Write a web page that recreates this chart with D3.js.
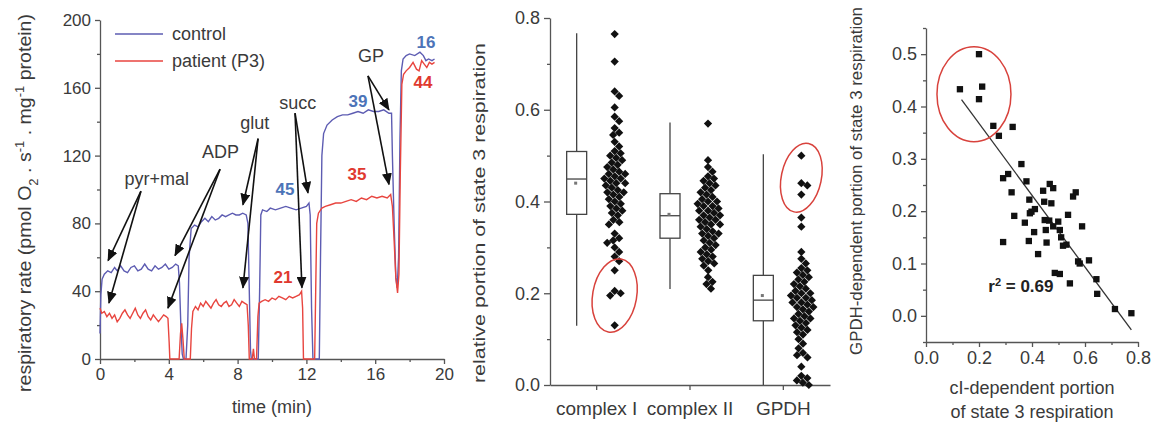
<!DOCTYPE html>
<html>
<head>
<meta charset="utf-8">
<script src="https://cdn.jsdelivr.net/npm/d3@7"></script>
<style>
  body { margin: 0; background: #fff; }
  text { font-family: "Liberation Sans", Arial, sans-serif; fill: #3a3a3a; }
  .axis path, .axis line { stroke: #555; stroke-width: 1.3; }
  .axis text { font-size: 17px; fill: #3a3a3a; }
</style>
</head>
<body>
<svg id="chart" width="1151" height="424"></svg>
<script>
/* panel A: oxygraph traces, [time (min), rate] */
const controlTrace = [[0.0,15],[0.05,38],[0.12,47],[0.25,50],[0.45,52],[0.65,51],[0.85,54],[1.0,52],[1.2,55],[1.4,52],[1.6,51],[1.8,54],[2.0,55],[2.2,52],[2.4,53],[2.6,56],[2.8,53],[3.0,52],[3.2,55],[3.4,53],[3.6,54],[3.8,56],[4.0,53],[4.2,54],[4.4,56],[4.55,55],[4.62,45],[4.7,20],[4.78,3],[4.85,0],[5.0,0],[5.1,20],[5.18,60],[5.3,77],[5.5,79],[5.7,78],[5.9,81],[6.1,83],[6.3,81],[6.5,84],[6.7,82],[6.9,83],[7.1,85],[7.3,84],[7.5,85],[7.7,86],[7.9,85],[8.1,85],[8.3,86],[8.5,85],[8.6,80],[8.68,40],[8.75,5],[8.8,0],[9.2,0],[9.28,40],[9.35,85],[9.45,88],[9.7,87],[9.9,89],[10.2,88],[10.5,89],[10.8,90],[11.1,89],[11.4,88],[11.7,89],[12.0,90],[12.15,92],[12.22,85],[12.3,30],[12.38,0],[12.75,0],[12.82,60],[12.9,120],[13.0,133],[13.2,138],[13.5,141],[13.8,143],[14.1,144],[14.4,144],[14.7,145],[15.0,146],[15.3,145],[15.6,147],[15.9,146],[16.2,146],[16.5,147],[16.8,145],[16.95,145],[17.0,120],[17.1,80],[17.2,48],[17.28,42],[17.36,60],[17.44,130],[17.52,170],[17.62,177],[17.8,179],[18.0,180],[18.3,179],[18.6,181],[18.8,179],[18.95,176],[19.1,177],[19.3,176],[19.45,177]];
const patientTrace = [[0.0,30],[0.1,27],[0.25,28],[0.4,25],[0.55,27],[0.7,24],[0.85,26],[1.0,22],[1.15,24],[1.3,27],[1.45,29],[1.6,26],[1.75,24],[1.9,27],[2.05,30],[2.2,26],[2.35,24],[2.5,27],[2.65,29],[2.8,25],[2.95,23],[3.1,26],[3.25,24],[3.4,22],[3.55,24],[3.7,26],[3.85,25],[3.95,24],[4.02,10],[4.06,0],[4.6,0],[4.68,15],[4.75,21],[4.82,12],[4.9,0],[5.25,0],[5.32,18],[5.4,28],[5.55,31],[5.7,29],[5.85,33],[6.0,31],[6.15,34],[6.3,32],[6.45,30],[6.6,33],[6.75,35],[6.9,32],[7.05,31],[7.2,33],[7.35,34],[7.5,31],[7.65,32],[7.8,35],[7.95,33],[8.1,31],[8.25,34],[8.4,33],[8.55,32],[8.62,20],[8.68,0],[8.85,0],[8.92,6],[8.98,0],[9.1,0],[9.18,25],[9.25,33],[9.4,34],[9.6,35],[9.8,34],[10.0,36],[10.2,35],[10.4,37],[10.6,36],[10.8,35],[11.0,37],[11.2,36],[11.4,37],[11.6,38],[11.72,40],[11.78,30],[11.83,0],[12.48,0],[12.54,40],[12.6,80],[12.7,86],[12.9,89],[13.1,90],[13.4,91],[13.7,92],[14.0,92],[14.3,93],[14.6,94],[14.9,93],[15.2,95],[15.5,94],[15.8,96],[16.1,95],[16.4,96],[16.7,95],[16.9,97],[17.0,90],[17.1,70],[17.2,48],[17.3,39],[17.38,50],[17.46,110],[17.55,162],[17.65,168],[17.8,170],[18.0,172],[18.2,175],[18.4,171],[18.55,170],[18.7,176],[18.85,174],[19.0,172],[19.15,175],[19.3,174],[19.45,175]];
const timeTicks = [0, 4, 8, 12, 16, 20];
const rateTicks = [0, 40, 80, 120, 160, 200];

/* substrate additions: label anchor, arrow start, arrow tips (time, rate) */
const substrates = [
  {name: "pyr+mal", label: [3.3, 106], from: [2.38, 99], tips: [[0.47, 58], [0.52, 33]]},
  {name: "ADP",     label: [7.0, 122], from: [6.98, 112], tips: [[4.36, 61], [3.95, 30]]},
  {name: "glut",    label: [9.0, 139], from: [9.19, 130], tips: [[8.31, 91], [8.31, 42]]},
  {name: "succ",    label: [11.5, 151], from: [11.34, 145], tips: [[12.09, 98], [11.74, 42]]},
  {name: "GP",      label: [15.75, 179], from: [15.58, 167], tips: [[16.8, 147], [16.8, 103]]}
];
const controlNumbers = [{text: "45", at: [10.76, 100]}, {text: "39", at: [15.0, 152]}, {text: "16", at: [18.95, 187]}];
const patientNumbers = [{text: "21", at: [10.64, 48]}, {text: "35", at: [14.94, 109]}, {text: "44", at: [18.78, 163]}];

/* panel B: relative portion of state 3 respiration */
const categories = ["complex I", "complex II", "GPDH"];
const complexI = [0.765,0.705,0.64,0.63,0.605,0.585,0.575,0.56,0.55,0.545,0.53,0.52,0.51,0.505,0.50,0.495,0.49,0.485,0.48,0.475,0.47,0.465,0.46,0.46,0.455,0.45,0.45,0.445,0.44,0.44,0.435,0.43,0.425,0.42,0.42,0.415,0.41,0.405,0.40,0.395,0.39,0.385,0.38,0.375,0.37,0.36,0.355,0.35,0.33,0.32,0.315,0.31,0.30,0.29,0.28,0.27,0.25,0.205,0.20,0.195,0.13];
const complexII = [0.57,0.49,0.475,0.465,0.455,0.45,0.445,0.44,0.435,0.43,0.425,0.42,0.415,0.41,0.405,0.40,0.40,0.395,0.39,0.39,0.385,0.38,0.38,0.375,0.37,0.37,0.365,0.36,0.36,0.355,0.35,0.35,0.345,0.34,0.335,0.33,0.33,0.325,0.32,0.315,0.31,0.305,0.30,0.295,0.29,0.285,0.28,0.275,0.27,0.265,0.26,0.25,0.235,0.225,0.22,0.21];
const gpdh = [0.50,0.44,0.435,0.415,0.365,0.345,0.29,0.275,0.265,0.255,0.25,0.245,0.24,0.235,0.23,0.225,0.22,0.215,0.21,0.205,0.20,0.20,0.195,0.19,0.19,0.185,0.18,0.18,0.175,0.17,0.17,0.165,0.16,0.155,0.15,0.145,0.145,0.14,0.135,0.13,0.125,0.12,0.115,0.11,0.10,0.09,0.08,0.07,0.065,0.06,0.04,0.02,0.015,0.01,0.005,0.0];
// box stats
const boxMin = [0.129, 0.209, 0.0];
const boxQ1 = [0.372, 0.320, 0.140];
const boxMedian = [0.449, 0.369, 0.185];
const boxQ3 = [0.509, 0.417, 0.239];
const boxMax = [0.767, 0.572, 0.503];
const boxMean = [0.440, 0.372, 0.195];
const portionTicks = [0, 0.2, 0.4, 0.6, 0.8];

/* panel C: cI-dependent vs GPDH-dependent portion */
const cIPortion = [0.128,0.2,0.212,0.2,0.254,0.275,0.327,0.36,0.291,0.31,0.323,0.333,0.291,0.379,0.373,0.39,0.398,0.392,0.411,0.388,0.408,0.423,0.442,0.446,0.467,0.48,0.473,0.448,0.465,0.452,0.455,0.48,0.499,0.505,0.51,0.517,0.53,0.486,0.505,0.543,0.536,0.555,0.565,0.589,0.574,0.615,0.643,0.646,0.713,0.775,0.58];
const gpdhPortion = [0.433,0.5,0.438,0.414,0.363,0.344,0.361,0.29,0.263,0.271,0.236,0.191,0.141,0.257,0.178,0.222,0.199,0.196,0.204,0.143,0.16,0.118,0.239,0.218,0.252,0.244,0.215,0.183,0.182,0.164,0.14,0.171,0.18,0.164,0.15,0.134,0.136,0.082,0.08,0.062,0.193,0.228,0.236,0.171,0.104,0.106,0.07,0.042,0.013,0.005,0.1];
// fitted line as printed in the figure: start and end of the drawn segment
const fitX = [0.134, 0.775];
const fitY = [0.413, -0.027];
const xTicksC = [0, 0.2, 0.4, 0.6, 0.8];
const yTicksC = [0, 0.1, 0.2, 0.3, 0.4, 0.5];

const blue = "#5d5cb2", red = "#e8453f";
const blueText = "#4d74b8", redText = "#e0392f", circleRed = "#d8423c";
const svg = d3.select("#chart");

svg.append("defs").append("marker")
  .attr("id", "arrow")
  .attr("viewBox", "0 0 12 10")
  .attr("refX", 11).attr("refY", 5)
  .attr("markerUnits", "userSpaceOnUse")
  .attr("markerWidth", 12).attr("markerHeight", 10)
  .attr("orient", "auto")
  .append("path").attr("d", "M0,0 L12,5 L0,10 z").attr("fill", "#111");

/* ---------- panel A ---------- */
let xA = d3.scaleLinear().domain([0, 20]).range([100, 444]);
let yA = d3.scaleLinear().domain([0, 200]).range([359, 20]);
let gA = svg.append("g");

gA.append("g").attr("class", "axis").attr("transform", "translate(0,359)")
  .call(d3.axisBottom(xA).tickValues(timeTicks).tickSize(5).tickSizeOuter(0).tickPadding(4));
gA.append("g").attr("class", "axis").attr("transform", "translate(0,359)")
  .call(d3.axisBottom(xA).tickValues([2, 6, 10, 14, 18]).tickSize(3).tickFormat(""))
  .select(".domain").remove();
gA.append("g").attr("class", "axis").attr("transform", "translate(100,0)")
  .call(d3.axisLeft(yA).tickValues(rateTicks).tickSize(5).tickSizeOuter(0).tickPadding(4));
gA.append("g").attr("class", "axis").attr("transform", "translate(100,0)")
  .call(d3.axisLeft(yA).tickValues([20, 60, 100, 140, 180]).tickSize(3).tickFormat(""))
  .select(".domain").remove();

let lineA = d3.line().x(d => xA(d[0])).y(d => yA(d[1]));
gA.append("path").datum(controlTrace).attr("d", lineA)
  .attr("fill", "none").attr("stroke", blue).attr("stroke-width", 1.4);
gA.append("path").datum(patientTrace).attr("d", lineA)
  .attr("fill", "none").attr("stroke", red).attr("stroke-width", 1.4);

substrates.forEach(function(s) {
  s.tips.forEach(function(t) {
    gA.append("line")
      .attr("x1", xA(s.from[0])).attr("y1", yA(s.from[1]))
      .attr("x2", xA(t[0])).attr("y2", yA(t[1]))
      .attr("stroke", "#111").attr("stroke-width", 1.6)
      .attr("marker-end", "url(#arrow)");
  });
  gA.append("text").text(s.name)
    .attr("x", xA(s.label[0])).attr("y", yA(s.label[1]))
    .attr("text-anchor", "middle").attr("dominant-baseline", "central")
    .style("font-size", "18px");
});

gA.selectAll(".num-c").data(controlNumbers).enter().append("text")
  .text(d => d.text)
  .attr("x", d => xA(d.at[0])).attr("y", d => yA(d.at[1]))
  .attr("text-anchor", "middle").attr("dominant-baseline", "central")
  .style("font-size", "17px").style("font-weight", "bold").style("fill", blueText);
gA.selectAll(".num-p").data(patientNumbers).enter().append("text")
  .text(d => d.text)
  .attr("x", d => xA(d.at[0])).attr("y", d => yA(d.at[1]))
  .attr("text-anchor", "middle").attr("dominant-baseline", "central")
  .style("font-size", "17px").style("font-weight", "bold").style("fill", redText);

// legend
[["control", blue, 34], ["patient (P3)", red, 61]].forEach(function(l) {
  gA.append("line").attr("x1", 115).attr("x2", 163).attr("y1", l[2]).attr("y2", l[2])
    .attr("stroke", l[1]).attr("stroke-width", 1.6);
  gA.append("text").text(l[0]).attr("x", 172).attr("y", l[2] + 6).style("font-size", "18px");
});

gA.append("text").text("time (min)")
  .attr("x", 272).attr("y", 413).attr("text-anchor", "middle").style("font-size", "18px");
let labA = gA.append("text")
  .attr("transform", "translate(31,203) rotate(-90)")
  .attr("text-anchor", "middle").style("font-size", "18px")
  .attr("textLength", 378).attr("lengthAdjust", "spacingAndGlyphs");
labA.append("tspan").text("respiratory rate (pmol O");
labA.append("tspan").text("2").attr("baseline-shift", "sub").style("font-size", "12px");
labA.append("tspan").text(" . s");
labA.append("tspan").text("-1").attr("baseline-shift", "super").style("font-size", "12px");
labA.append("tspan").text(" . mg");
labA.append("tspan").text("-1").attr("baseline-shift", "super").style("font-size", "12px");
labA.append("tspan").text(" protein)");

/* ---------- panel B ---------- */
let xB = d3.scaleBand().domain(categories).range([550, 830]);
let yB = d3.scaleLinear().domain([0, 0.8]).range([385, 18]);
let gB = svg.append("g");

gB.append("g").attr("class", "axis").attr("transform", "translate(0,385)")
  .call(d3.axisBottom(xB).tickSize(5).tickSizeOuter(0).tickPadding(12))
  .selectAll("text").style("font-size", "19px");
gB.append("g").attr("class", "axis").attr("transform", "translate(550,0)")
  .call(d3.axisLeft(yB).tickValues(portionTicks).tickFormat(d3.format(".1f")).tickSize(6).tickSizeOuter(0).tickPadding(4))
  .selectAll("text").style("font-size", "18px");
gB.append("g").attr("class", "axis").attr("transform", "translate(550,0)")
  .call(d3.axisLeft(yB).tickValues([0.1, 0.3, 0.5, 0.7]).tickSize(3).tickFormat(""))
  .select(".domain").remove();

let boxOffset = -20, dotOffset = 18, boxW = 20;
categories.forEach(function(c, i) {
  let cx = xB(c) + xB.bandwidth() / 2 + boxOffset;
  gB.append("line").attr("x1", cx).attr("x2", cx).attr("y1", yB(boxMax[i])).attr("y2", yB(boxQ3[i]))
    .attr("stroke", "#444").attr("stroke-width", 1.3);
  gB.append("line").attr("x1", cx).attr("x2", cx).attr("y1", yB(boxQ1[i])).attr("y2", yB(boxMin[i]))
    .attr("stroke", "#444").attr("stroke-width", 1.3);
  gB.append("rect").attr("x", cx - boxW / 2).attr("width", boxW)
    .attr("y", yB(boxQ3[i])).attr("height", yB(boxQ1[i]) - yB(boxQ3[i]))
    .attr("fill", "#fff").attr("stroke", "#444").attr("stroke-width", 1.3);
  gB.append("line").attr("x1", cx - boxW / 2).attr("x2", cx + boxW / 2)
    .attr("y1", yB(boxMedian[i])).attr("y2", yB(boxMedian[i]))
    .attr("stroke", "#444").attr("stroke-width", 1.3);
  gB.append("rect").attr("x", cx - 2.5).attr("y", yB(boxMean[i]) - 1.5).attr("width", 3).attr("height", 3)
    .attr("fill", "#777");
});

// simple dodge so the diamonds spread sideways like the original
function dodge(ys, r) {
  let placed = [];
  return ys.map(function(y) {
    let cands = [0];
    placed.forEach(function(p) {
      let dy = Math.abs(p.y - y);
      if (dy < 2 * r) {
        let dx = Math.sqrt(4 * r * r - dy * dy);
        cands.push(p.x + dx, p.x - dx);
      }
    });
    cands.sort((a, b) => Math.abs(a) - Math.abs(b));
    let best = cands.find(cx => placed.every(p => (p.x - cx) ** 2 + (p.y - y) ** 2 >= 4 * r * r - 1e-6));
    placed.push({x: best, y: y});
    return best;
  });
}

let diamond = d3.symbol().type(d3.symbolSquare).size(34);
[complexI, complexII, gpdh].forEach(function(vals, i) {
  let cx = xB(categories[i]) + xB.bandwidth() / 2 + dotOffset;
  let offs = dodge(vals.map(v => yB(v)), 3.2);
  gB.selectAll(".dot" + i).data(vals).enter().append("path")
    .attr("d", diamond)
    .attr("transform", (d, j) => "translate(" + (cx + offs[j]) + "," + yB(d) + ") rotate(45)")
    .attr("fill", "#111");
});

// red rings around the outliers
[[0, 0.195, 22, 37, 10], [2, 0.452, 20, 35, 12]].forEach(function(e) {
  let cx = xB(categories[e[0]]) + xB.bandwidth() / 2 + dotOffset;
  gB.append("ellipse")
    .attr("transform", "translate(" + cx + "," + yB(e[1]) + ") rotate(" + e[4] + ")")
    .attr("rx", e[2]).attr("ry", e[3])
    .attr("fill", "none").attr("stroke", circleRed).attr("stroke-width", 1.5);
});

gB.append("text").text("relative portion of state 3 respiration")
  .attr("transform", "translate(485,213) rotate(-90)")
  .attr("text-anchor", "middle").style("font-size", "17px")
  .attr("textLength", 340).attr("lengthAdjust", "spacingAndGlyphs");

/* ---------- panel C ---------- */
let xC = d3.scaleLinear().domain([0, 0.8]).range([926, 1138]);
let yC = d3.scaleLinear().domain([-0.05, 0.55]).range([342, 28]);
let gC = svg.append("g");

gC.append("g").attr("class", "axis").attr("transform", "translate(0,342)")
  .call(d3.axisBottom(xC).tickValues(xTicksC).tickFormat(d3.format(".1f")).tickSize(5).tickSizeOuter(0).tickPadding(4))
  .selectAll("text").style("font-size", "18px");
gC.append("g").attr("class", "axis").attr("transform", "translate(0,342)")
  .call(d3.axisBottom(xC).tickValues([0.1, 0.3, 0.5, 0.7]).tickSize(3).tickFormat(""))
  .select(".domain").remove();
gC.append("g").attr("class", "axis").attr("transform", "translate(926,0)")
  .call(d3.axisLeft(yC).tickValues(yTicksC).tickFormat(d3.format(".1f")).tickSize(5).tickSizeOuter(0).tickPadding(4))
  .selectAll("text").style("font-size", "18px");
gC.append("g").attr("class", "axis").attr("transform", "translate(926,0)")
  .call(d3.axisLeft(yC).tickValues([-0.05, 0.05, 0.15, 0.25, 0.35, 0.45, 0.55]).tickSize(3).tickFormat(""))
  .select(".domain").remove();

gC.append("line")
  .attr("x1", xC(fitX[0])).attr("y1", yC(fitY[0]))
  .attr("x2", xC(fitX[1])).attr("y2", yC(fitY[1]))
  .attr("stroke", "#333").attr("stroke-width", 1.3);

let pts = cIPortion.map((x, i) => [x, gpdhPortion[i]]);
let square = d3.symbol().type(d3.symbolSquare).size(40);
gC.selectAll(".pt").data(pts).enter().append("path")
  .attr("d", square)
  .attr("transform", d => "translate(" + xC(d[0]) + "," + yC(d[1]) + ")")
  .attr("fill", "#111");

gC.append("ellipse")
  .attr("cx", xC(0.181)).attr("cy", yC(0.4235)).attr("rx", 37).attr("ry", 47.5)
  .attr("fill", "none").attr("stroke", circleRed).attr("stroke-width", 1.5);

let r2 = gC.append("text").attr("x", xC(0.235)).attr("y", yC(0.045))
  .style("font-size", "17px").style("font-weight", "bold").style("fill", "#222");
r2.append("tspan").text("r");
r2.append("tspan").text("2").attr("baseline-shift", "super").style("font-size", "11px");
r2.append("tspan").text(" = 0.69");

gC.append("text").text("GPDH-dependent portion of state 3 respiration")
  .attr("transform", "translate(862,181) rotate(-90)")
  .attr("text-anchor", "middle").style("font-size", "17px")
  .attr("textLength", 348).attr("lengthAdjust", "spacingAndGlyphs");
gC.append("text").text("cI-dependent portion")
  .attr("x", 1032).attr("y", 394).attr("text-anchor", "middle").style("font-size", "18px");
gC.append("text").text("of state 3 respiration")
  .attr("x", 1032).attr("y", 418).attr("text-anchor", "middle").style("font-size", "18px");
</script>
</body>
</html>
